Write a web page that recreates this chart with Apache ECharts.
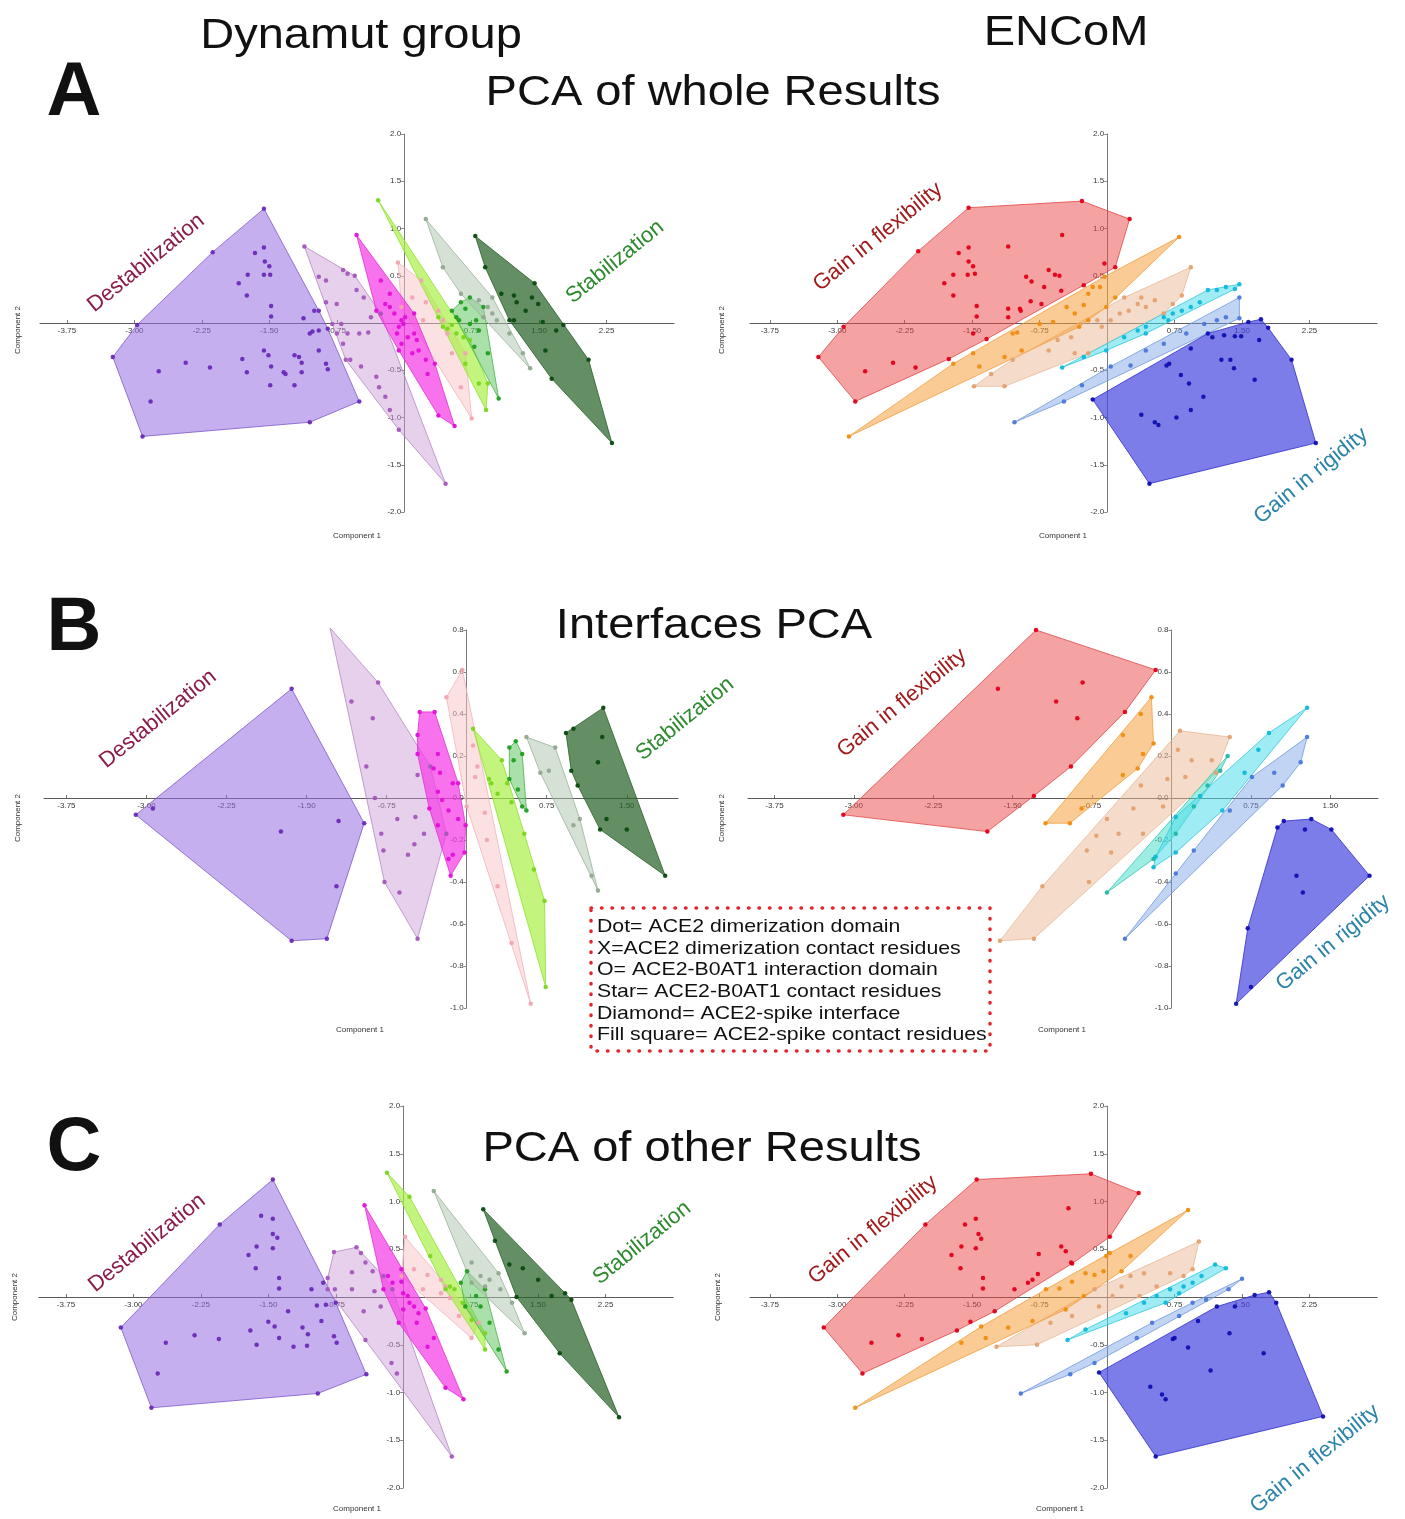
<!DOCTYPE html>
<html>
<head>
<meta charset="utf-8">
<script src="https://cdn.jsdelivr.net/npm/echarts@6/dist/echarts.min.js"></script>
<style>
  html, body { margin: 0; padding: 0; background: #ffffff; }
  #chart { width: 1405px; height: 1519px; }
</style>
</head>
<body>
<div id="chart"></div>
<script>
// ---------- tick labels ----------
const xTicksWide = [-3.75, -3.0, -2.25, -1.5, -0.75, 0.75, 1.5, 2.25];
const xTicksNarrow = [-3.75, -3.0, -2.25, -1.5, -0.75, 0.75, 1.5];
const yTicksWide = [-2.0, -1.5, -1.0, -0.5, 0.5, 1.0, 1.5, 2.0];
const yTicksNarrow = [-1.0, -0.8, -0.6, -0.4, -0.2, 0.0, 0.2, 0.4, 0.6, 0.8];

// ---------- A: PCA of whole results, Dynamut group ----------
const aDynPurple = [[-1.56,1.21],[-0.50,-0.83],[-1.05,-1.05],[-2.91,-1.20],[-3.24,-0.36],[-2.97,-0.02],[-2.13,0.75],[-1.56,0.80],[-1.66,0.74],[-1.55,0.65],[-1.50,0.60],[-1.74,0.51],[-1.56,0.51],[-1.49,0.51],[-1.84,0.42],[-1.75,0.29],[-1.48,0.18],[-1.48,0.07],[-1.12,0.05],[-1.00,0.13],[-0.95,0.13],[-1.02,-0.09],[-0.95,-0.08],[-1.05,-0.11],[-0.85,-0.06],[-0.95,-0.29],[-0.87,-0.43],[-0.85,-0.49],[-1.22,-0.34],[-1.17,-0.36],[-1.14,-0.42],[-1.14,-0.52],[-1.22,-0.66],[-1.32,-0.54],[-1.48,-0.46],[-1.51,-0.34],[-1.56,-0.29],[-1.80,-0.38],[-1.75,-0.52],[-1.49,-0.66],[-2.16,-0.47],[-2.43,-0.42],[-2.73,-0.51],[-2.82,-0.83],[-1.34,-0.52]];
const aDynLavender = [[-1.11,0.81],[-0.55,0.50],[-0.26,0.10],[0.46,-1.70],[-0.06,-1.13],[-0.65,-0.39],[-0.95,0.49],[-0.87,0.45],[-0.68,0.56],[-0.63,0.52],[-0.53,0.35],[-0.45,0.27],[-0.87,0.22],[-0.75,0.20],[-0.80,-0.01],[-0.70,-0.01],[-0.75,-0.11],[-0.63,-0.11],[-0.50,-0.11],[-0.40,-0.10],[-0.68,-0.22],[-0.60,-0.39],[-0.48,-0.46],[-0.31,-0.57],[-0.28,-0.68],[-0.21,-0.78],[-0.16,-0.92],[-0.37,0.06]];
const aDynMagenta = [[-0.53,0.93],[0.56,-1.09],[0.38,-0.98],[-0.31,0.13],[0.34,-0.43],[0.11,0.10],[-0.16,0.17],[-0.11,0.10],[-0.03,0.03],[-0.01,-0.01],[-0.06,-0.04],[0.01,0.06],[-0.08,-0.11],[0.04,-0.15],[-0.03,-0.22],[0.11,-0.11],[0.14,-0.18],[0.09,-0.32],[0.24,-0.39],[0.26,-0.54],[0.16,-0.29],[-0.21,0.20],[-0.16,0.31],[-0.26,0.45],[-0.06,-0.29]];
const aDynPink = [[-0.07,0.64],[0.75,-1.01],[0.09,0.27],[0.24,0.22],[0.38,0.13],[0.21,0.03],[0.43,0.03],[0.48,-0.11],[0.53,-0.32],[0.63,-0.68],[0.19,0.45],[-0.03,0.17],[0.68,-0.32]];
const aDynLime = [[-0.29,1.30],[0.91,-0.92],[0.93,-0.64],[0.73,-0.18],[0.43,-0.04],[0.68,-0.43],[0.38,0.06],[0.48,-0.06],[0.53,-0.02],[0.58,-0.11],[0.66,-0.15],[0.83,-0.64]];
const aDynGreen = [[0.53,0.13],[0.73,0.27],[0.88,0.17],[1.05,-0.80],[0.63,0.22],[0.68,0.15],[0.58,0.06],[0.73,-0.01],[0.80,0.03],[0.83,-0.08],[0.78,-0.25],[0.93,-0.32],[0.61,0.03]];
const aDynSage = [[0.24,1.10],[0.98,0.27],[1.40,-0.48],[0.93,0.17],[0.83,0.24],[0.98,0.10],[0.88,0.06],[1.03,0.03],[1.17,-0.11],[1.32,-0.32],[0.63,0.31],[0.43,0.59]];
const aDynForest = [[0.79,0.92],[1.45,0.42],[1.77,-0.02],[2.05,-0.39],[2.31,-1.27],[1.64,-0.59],[1.17,0.03],[0.90,0.59],[1.08,0.31],[1.22,0.29],[1.25,0.22],[1.35,0.13],[1.42,0.27],[1.49,0.20],[1.54,0.01],[1.69,-0.08],[1.22,0.03],[1.57,-0.29]];

// ---------- A: PCA of whole results, ENCoM ----------
const aEncRed = [[-1.54,1.22],[-0.28,1.29],[0.25,1.10],[0.09,0.59],[-0.26,0.40],[-0.73,0.20],[-1.34,-0.17],[-1.76,-0.38],[-2.80,-0.83],[-3.21,-0.36],[-2.93,-0.04],[-2.10,0.76],[-0.50,0.93],[-1.10,0.81],[-1.54,0.80],[-1.65,0.74],[-1.54,0.65],[-1.49,0.60],[-1.71,0.51],[-1.55,0.51],[-1.47,0.52],[-1.81,0.42],[-1.71,0.29],[-1.45,0.18],[-1.45,0.07],[-1.10,0.06],[-0.96,0.13],[-0.85,0.23],[-0.65,0.56],[-0.58,0.51],[-0.53,0.50],[-0.90,0.49],[-0.84,0.44],[-0.70,0.38],[-0.51,0.34],[-0.97,0.15],[-0.03,0.63],[-1.49,-0.11],[-2.13,-0.47],[-2.38,-0.42],[-2.69,-0.51],[-1.10,0.15]];
const aEncOrange = [[-2.87,-1.20],[0.80,0.91],[-1.71,-0.43],[-1.49,-0.32],[-1.42,-0.46],[-1.05,-0.11],[-1.00,-0.10],[-0.95,-0.29],[-1.14,-0.36],[-0.75,-0.01],[-0.60,0.01],[-0.45,0.17],[-0.36,0.10],[-0.26,0.19],[-0.21,0.31],[-0.16,0.38],[-0.08,0.38],[-0.03,0.49],[-0.01,0.17],[0.09,0.27],[-0.21,0.03],[-0.31,-0.04]];
const aEncPeach = [[-1.48,-0.67],[-1.14,-0.67],[0.93,0.59],[0.83,0.29],[0.63,0.10],[-1.29,-0.54],[-1.05,-0.39],[-0.65,-0.29],[-0.55,-0.18],[-0.40,-0.15],[-0.06,-0.04],[0.04,0.03],[0.14,0.10],[0.24,0.13],[0.34,0.20],[0.43,0.17],[0.53,0.24],[0.73,0.20],[0.19,0.27],[0.38,0.27],[-0.11,0.03],[-0.36,-0.32],[-0.21,-0.32]];
const aEncCyan = [[-0.50,-0.47],[1.47,0.41],[1.12,0.35],[-0.26,-0.36],[-0.01,-0.29],[0.19,-0.15],[0.34,-0.08],[0.43,-0.04],[0.63,0.06],[0.73,0.10],[0.83,0.13],[0.93,0.17],[1.03,0.22],[1.22,0.35],[1.32,0.38],[0.43,-0.11],[0.68,0.03],[1.42,0.36]];
const aEncSky = [[-1.03,-1.05],[1.47,0.27],[1.47,0.05],[-0.48,-0.83],[-0.28,-0.66],[0.04,-0.46],[0.26,-0.45],[0.43,-0.29],[0.63,-0.22],[0.88,-0.11],[1.08,-0.01],[1.22,0.03],[1.32,0.06]];
const aEncBlue = [[1.12,-0.11],[1.71,0.04],[1.79,-0.05],[2.05,-0.39],[2.32,-1.27],[0.47,-1.70],[-0.16,-0.81],[1.17,-0.15],[1.30,-0.13],[1.42,-0.14],[1.49,-0.14],[1.69,-0.18],[0.93,-0.27],[0.66,-0.45],[0.69,-0.43],[0.82,-0.55],[0.91,-0.64],[0.93,-0.92],[1.07,-0.78],[1.27,-0.39],[1.37,-0.39],[1.41,-0.48],[1.64,-0.60],[0.38,-0.97],[0.53,-1.05],[0.57,-1.08],[0.77,-1.00],[1.57,0.01]];

// ---------- B: interfaces PCA, Dynamut group ----------
const bDynPurple = [[-1.64,0.52],[-0.96,-0.12],[-1.31,-0.67],[-1.64,-0.68],[-3.10,-0.08],[-1.74,-0.16],[-1.20,-0.11],[-1.22,-0.42],[-2.94,-0.05]];
const bDynLavender = [[-1.28,0.81],[-0.83,0.55],[-0.19,-0.17],[-0.46,-0.67],[-0.77,-0.40],[-1.08,0.46],[-0.88,0.38],[-0.94,0.15],[-0.86,0.00],[-0.80,-0.17],[-0.78,-0.25],[-0.65,-0.10],[-0.48,-0.09],[-0.55,-0.27],[-0.49,-0.22],[-0.40,-0.17],[-0.46,0.11],[-0.63,-0.45],[-0.34,0.15]];
const bDynMagenta = [[-0.44,0.41],[-0.30,0.41],[-0.08,0.07],[-0.01,-0.13],[-0.02,-0.26],[-0.15,-0.37],[-0.46,0.21],[-0.46,0.30],[-0.27,0.21],[-0.31,0.14],[-0.25,0.12],[-0.27,0.03],[-0.23,-0.01],[-0.13,0.07],[-0.17,-0.06],[-0.08,-0.10],[-0.27,-0.13],[-0.13,-0.27],[-0.17,-0.29],[-0.35,-0.05]];
const bDynPink = [[-0.19,0.48],[-0.04,0.61],[0.10,0.15],[0.60,-0.98],[0.00,-0.04],[0.06,0.25],[0.08,0.10],[0.17,-0.07],[0.19,-0.20],[0.29,-0.42],[0.42,-0.69]];
const bDynLime = [[0.06,0.33],[0.33,0.18],[0.73,-0.49],[0.74,-0.90],[0.21,0.09],[0.23,0.07],[0.38,0.07],[0.29,0.02],[0.42,-0.02],[0.54,-0.17],[0.63,-0.34]];
const bDynGreen = [[0.40,0.24],[0.46,0.27],[0.52,0.21],[0.56,-0.06],[0.40,0.09],[0.44,0.18],[0.48,0.04],[0.52,-0.04]];
const bDynSage = [[0.56,0.29],[0.83,0.24],[1.06,-0.10],[1.23,-0.44],[0.69,0.12],[0.77,0.13],[1.00,-0.13],[1.17,-0.37]];
const bDynForest = [[0.93,0.31],[1.28,0.43],[1.86,-0.37],[1.25,-0.15],[0.98,0.13],[1.00,0.33],[1.27,0.29],[1.23,0.17],[1.04,0.06],[1.31,-0.10],[1.50,-0.15]];

// ---------- B: interfaces PCA, ENCoM ----------
const bEncRed = [[-1.28,0.80],[-0.15,0.61],[-0.95,0.15],[-1.74,-0.16],[-3.10,-0.08],[-1.64,0.52],[-0.84,0.55],[-1.09,0.46],[-0.89,0.38],[-0.44,0.41],[-1.30,0.01]];
const bEncOrange = [[-0.19,0.48],[-0.17,0.26],[-0.32,0.14],[-0.96,-0.12],[-1.19,-0.12],[-0.29,0.40],[-0.46,0.30],[-0.27,0.21],[-0.46,0.11],[-0.85,-0.05]];
const bEncPeach = [[0.08,0.32],[0.55,0.29],[-1.30,-0.67],[-1.62,-0.68],[0.06,0.23],[0.13,0.10],[0.19,0.18],[0.38,0.18],[0.42,0.12],[-0.04,0.09],[-0.08,-0.04],[-0.29,0.06],[-0.36,-0.05],[-0.50,-0.17],[-0.61,-0.10],[-0.71,-0.18],[-0.80,-0.25],[-0.57,-0.26],[-0.78,-0.40],[-1.22,-0.42],[-0.27,-0.17]];
const bEncTeal = [[-0.61,-0.45],[0.53,0.20],[-0.17,-0.29],[0.04,-0.17],[0.21,-0.04],[0.34,0.06],[0.46,0.13]];
const bEncCyan = [[-0.17,-0.33],[1.28,0.43],[-0.15,-0.28],[0.04,-0.09],[0.27,0.01],[0.48,-0.06],[0.69,0.12],[0.82,0.23],[0.92,0.31],[0.04,-0.26]];
const bEncSky = [[-0.44,-0.67],[1.28,0.29],[0.55,-0.06],[0.97,0.12],[1.05,0.06],[1.22,0.17],[0.76,0.10],[0.04,-0.36],[0.21,-0.25]];
const bEncBlue = [[1.06,-0.11],[1.32,-0.10],[1.51,-0.15],[1.87,-0.37],[0.61,-0.98],[0.72,-0.62],[1.00,-0.14],[1.26,-0.15],[1.18,-0.37],[1.24,-0.45],[0.75,-0.90]];

// ---------- C: PCA of other results, Dynamut group ----------
const cDynPurple = [[-1.45,1.23],[-0.41,-0.81],[-0.95,-1.01],[-2.80,-1.16],[-3.14,-0.32],[-2.04,0.76],[-1.58,0.85],[-1.45,0.82],[-1.45,0.66],[-1.40,0.62],[-1.63,0.53],[-1.45,0.51],[-1.72,0.44],[-1.64,0.30],[-1.38,0.20],[-1.38,0.09],[-1.02,0.08],[-0.89,0.15],[-0.96,-0.09],[-0.86,-0.08],[-0.75,-0.06],[-0.91,-0.25],[-0.77,-0.41],[-0.74,-0.48],[-1.06,-0.39],[-1.12,-0.32],[-1.07,-0.51],[-1.22,-0.52],[-1.38,-0.43],[-1.43,-0.31],[-1.50,-0.26],[-1.70,-0.35],[-1.63,-0.50],[-2.05,-0.44],[-2.32,-0.40],[-2.64,-0.48],[-2.73,-0.80],[-1.28,-0.15]];
const cDynLavender = [[-0.77,0.47],[-0.52,0.52],[-0.47,0.46],[-0.22,0.22],[0.54,-1.67],[-0.42,-0.45],[-0.84,0.08],[-0.84,0.20],[-0.42,0.36],[-0.34,0.27],[-0.57,0.26],[-0.76,0.08],[-0.57,0.08],[-0.44,-0.15],[-0.25,-0.10],[-0.32,0.06],[-0.12,0.08],[-0.13,-0.69],[-0.07,-0.80]];
const cDynMagenta = [[-0.43,0.96],[0.67,-1.07],[0.47,-0.95],[-0.17,0.22],[-0.12,0.15],[-0.02,0.16],[0.00,0.04],[0.05,0.01],[0.07,-0.06],[0.00,-0.13],[0.12,-0.10],[0.17,-0.17],[0.25,-0.12],[0.15,-0.27],[0.34,-0.43],[0.27,-0.52],[-0.02,0.29],[-0.22,0.08],[-0.05,-0.27]];
const cDynPink = [[0.02,0.63],[0.76,-0.43],[0.12,0.29],[0.27,0.23],[0.42,0.18],[0.47,0.11],[0.22,0.08],[0.42,0.04],[0.52,-0.01],[0.62,-0.20],[-0.02,0.22],[0.84,-0.27]];
const cDynLime = [[-0.18,1.30],[0.07,1.05],[0.91,-0.38],[0.91,-0.55],[0.47,0.08],[0.30,0.43],[0.52,0.11],[0.57,0.08],[0.66,-0.06],[0.76,-0.24]];
const cDynGreen = [[0.64,0.15],[0.71,0.27],[0.91,0.08],[1.15,-0.78],[0.69,-0.10],[0.81,0.01],[0.86,-0.10],[0.96,-0.27],[1.06,-0.55]];
const cDynSage = [[0.34,1.11],[1.06,0.25],[1.35,-0.38],[0.76,0.36],[0.86,0.22],[0.96,0.18],[0.91,0.11],[1.08,0.08],[1.21,-0.06],[0.76,0.15]];
const cDynForest = [[0.89,0.92],[1.80,0.04],[1.87,-0.03],[2.40,-1.26],[1.74,-0.59],[1.26,0.00],[1.02,0.59],[1.18,0.34],[1.33,0.30],[1.50,0.18],[1.65,0.01]];

// ---------- C: PCA of other results, ENCoM ----------
const cEncRed = [[-1.45,1.23],[-0.18,1.29],[0.35,1.09],[0.03,0.63],[-0.39,0.35],[-1.25,-0.15],[-1.67,-0.35],[-2.72,-0.80],[-3.15,-0.32],[-2.02,0.76],[-0.43,0.93],[-1.46,0.82],[-1.58,0.76],[-1.43,0.66],[-1.40,0.61],[-1.62,0.53],[-1.46,0.51],[-1.73,0.44],[-1.63,0.30],[-1.38,0.20],[-1.38,0.09],[-1.03,0.08],[-0.88,0.15],[-0.83,0.18],[-0.77,0.24],[-0.76,0.45],[-0.51,0.53],[-0.46,0.48],[-0.40,0.36],[-1.52,-0.26],[-2.32,-0.40],[-2.62,-0.48],[-2.06,-0.44]];
const cEncOrange = [[-2.80,-1.16],[0.90,0.91],[-1.62,-0.48],[-1.40,-0.31],[-1.35,-0.43],[-1.10,-0.32],[-0.83,-0.25],[-0.68,0.08],[-0.53,0.09],[-0.39,0.16],[-0.24,0.25],[-0.14,0.23],[-0.04,0.27],[-0.01,0.43],[0.03,0.46],[0.16,0.27],[0.26,0.43],[-0.26,0.01],[-0.46,-0.13]];
const cEncPeach = [[-1.23,-0.52],[-0.78,-0.50],[1.02,0.58],[0.95,0.29],[0.36,0.01],[-0.63,-0.27],[-0.39,-0.20],[-0.09,-0.10],[0.06,0.01],[0.16,0.11],[0.26,0.22],[0.41,0.25],[0.55,0.11],[0.70,0.25],[0.85,0.22],[-0.14,0.08]];
const cEncCyan = [[-0.44,-0.45],[1.20,0.34],[1.32,0.30],[-0.24,-0.34],[0.21,-0.17],[0.41,-0.06],[0.55,0.01],[0.70,0.08],[0.85,0.11],[0.95,0.15],[1.05,0.22],[0.65,-0.06],[0.80,0.04]];
const cEncSky = [[-0.96,-1.01],[-0.41,-0.81],[1.50,0.19],[-0.14,-0.69],[0.33,-0.43],[0.50,-0.27],[0.80,-0.20],[0.95,-0.06],[1.10,-0.03],[1.35,0.08]];
const cEncBlue = [[1.22,-0.10],[1.64,0.02],[1.80,0.05],[1.88,-0.06],[2.40,-1.25],[0.54,-1.67],[-0.09,-0.79],[1.01,-0.25],[1.36,-0.38],[0.75,-0.43],[0.73,-0.44],[0.90,-0.53],[1.15,-0.77],[1.74,-0.59],[0.48,-0.94],[0.61,-1.02],[0.65,-1.07],[1.42,-0.10]];

// ---------- legend box text ----------
const legendLines = [
  'Dot= ACE2 dimerization domain',
  'X=ACE2 dimerization contact residues',
  'O= ACE2-B0AT1 interaction domain',
  'Star= ACE2-B0AT1 contact residues',
  'Diamond= ACE2-spike interface',
  'Fill square= ACE2-spike contact residues'
];

// ---------- group styles ----------
const ST = {
  purple:   { fill: 'rgba(150,110,225,0.55)', stroke: '#7f58cc', dot: '#6a2ab8' },
  lavender: { fill: 'rgba(200,150,210,0.45)', stroke: '#b488c4', dot: '#a455bc' },
  magenta:  { fill: 'rgba(245,60,230,0.72)',  stroke: '#e030d4', dot: '#e010d8' },
  pink:     { fill: 'rgba(250,195,200,0.5)',  stroke: '#f0b4bc', dot: '#f0a4b2' },
  lime:     { fill: 'rgba(170,240,70,0.7)',   stroke: '#90e030', dot: '#7ad61c' },
  green:    { fill: 'rgba(100,200,100,0.55)', stroke: '#48b048', dot: '#1f9f1f' },
  sage:     { fill: 'rgba(170,195,170,0.5)',  stroke: '#9ab29a', dot: '#90a890' },
  forest:   { fill: 'rgba(40,100,40,0.72)',   stroke: '#2a602a', dot: '#0a4a10' },
  red:      { fill: 'rgba(235,70,70,0.5)',    stroke: '#e04848', dot: '#e00018' },
  orange:   { fill: 'rgba(245,160,60,0.55)',  stroke: '#f0a040', dot: '#f08c10' },
  peach:    { fill: 'rgba(235,185,150,0.5)',  stroke: '#e8b898', dot: '#e4a070' },
  teal:     { fill: 'rgba(60,220,200,0.5)',   stroke: '#30c8b0', dot: '#20b8a8' },
  cyan:     { fill: 'rgba(80,220,235,0.55)',  stroke: '#30c8e0', dot: '#10b8d8' },
  sky:      { fill: 'rgba(120,160,230,0.45)', stroke: '#7098e0', dot: '#4a78d8' },
  blue:     { fill: 'rgba(70,70,225,0.7)',    stroke: '#3030c8', dot: '#1010b0' }
};

// ---------- panels ----------
const panels = [
  { grid: { left: 40,  top: 134,  width: 634, height: 378 }, x: [-4.05, 3.0], y: [-2, 2], xt: xTicksWide, yt: yTicksWide,
    groups: [[aDynPurple,'purple'],[aDynLavender,'lavender'],[aDynPink,'pink'],[aDynMagenta,'magenta'],[aDynLime,'lime'],[aDynGreen,'green'],[aDynSage,'sage'],[aDynForest,'forest']] },
  { grid: { left: 750, top: 134,  width: 627, height: 378 }, x: [-3.97, 3.0], y: [-2, 2], xt: xTicksWide, yt: yTicksWide,
    groups: [[aEncRed,'red'],[aEncPeach,'peach'],[aEncOrange,'orange'],[aEncSky,'sky'],[aEncCyan,'cyan'],[aEncBlue,'blue']] },
  { grid: { left: 44,  top: 630,  width: 634, height: 378 }, x: [-3.96, 1.98], y: [-1.0, 0.8], xt: xTicksNarrow, yt: yTicksNarrow,
    groups: [[bDynPurple,'purple'],[bDynLavender,'lavender'],[bDynPink,'pink'],[bDynMagenta,'magenta'],[bDynLime,'lime'],[bDynGreen,'green'],[bDynSage,'sage'],[bDynForest,'forest']] },
  { grid: { left: 748, top: 630,  width: 630, height: 378 }, x: [-4.0, 1.95], y: [-1.0, 0.8], xt: xTicksNarrow, yt: yTicksNarrow,
    groups: [[bEncRed,'red'],[bEncPeach,'peach'],[bEncOrange,'orange'],[bEncSky,'sky'],[bEncTeal,'teal'],[bEncCyan,'cyan'],[bEncBlue,'blue']] },
  { grid: { left: 39,  top: 1106, width: 634, height: 382 }, x: [-4.05, 3.0], y: [-2, 2], xt: xTicksWide, yt: yTicksWide,
    groups: [[cDynPurple,'purple'],[cDynLavender,'lavender'],[cDynPink,'pink'],[cDynMagenta,'magenta'],[cDynLime,'lime'],[cDynGreen,'green'],[cDynSage,'sage'],[cDynForest,'forest']] },
  { grid: { left: 750, top: 1106, width: 627, height: 382 }, x: [-3.97, 3.0], y: [-2, 2], xt: xTicksWide, yt: yTicksWide,
    groups: [[cEncRed,'red'],[cEncPeach,'peach'],[cEncOrange,'orange'],[cEncSky,'sky'],[cEncCyan,'cyan'],[cEncBlue,'blue']] }
];

// Andrew's monotone chain convex hull
function convexHull(pts) {
  const p = pts.slice().sort((a, b) => a[0] - b[0] || a[1] - b[1]);
  const cross = (o, a, b) => (a[0] - o[0]) * (b[1] - o[1]) - (a[1] - o[1]) * (b[0] - o[0]);
  const lower = [];
  for (const q of p) {
    while (lower.length >= 2 && cross(lower[lower.length - 2], lower[lower.length - 1], q) <= 0) lower.pop();
    lower.push(q);
  }
  const upper = [];
  for (let i = p.length - 1; i >= 0; i--) {
    const q = p[i];
    while (upper.length >= 2 && cross(upper[upper.length - 2], upper[upper.length - 1], q) <= 0) upper.pop();
    upper.push(q);
  }
  upper.pop(); lower.pop();
  return lower.concat(upper);
}

const grids = [], xAxes = [], yAxes = [], series = [];
const labelFont = { fontFamily: 'Liberation Sans', fontSize: 8, color: '#3a3a3a' };

panels.forEach((pn, gi) => {
  const g = pn.grid;
  // the axes cross at the origin: shift each axis from the grid edge to the zero of the other axis
  const xShift = -((0 - pn.y[0]) / (pn.y[1] - pn.y[0])) * g.height;
  const yShift = -((0 - pn.x[0]) / (pn.x[1] - pn.x[0])) * g.width;
  grids.push(Object.assign({ containLabel: false }, g));
  xAxes.push({
    type: 'value', gridIndex: gi, min: pn.x[0], max: pn.x[1], position: 'bottom', offset: xShift,
    axisLine: { onZero: false, lineStyle: { color: '#5a5a5a', width: 1.2 } }, splitLine: { show: false },
    axisTick: { show: true, inside: true, length: 3, customValues: pn.xt, lineStyle: { color: '#777' } },
    axisLabel: Object.assign({ customValues: pn.xt, margin: 4, formatter: v => v.toFixed(2) }, labelFont)
  });
  yAxes.push({
    type: 'value', gridIndex: gi, min: pn.y[0], max: pn.y[1], position: 'left', offset: yShift,
    axisLine: { onZero: false, lineStyle: { color: '#7a7a7a', width: 1 } }, splitLine: { show: false },
    axisTick: { show: true, length: 3, customValues: pn.yt, lineStyle: { color: '#888' } },
    axisLabel: Object.assign({ customValues: pn.yt, margin: 3, formatter: v => v.toFixed(1) }, labelFont)
  });
  pn.groups.forEach(([pts, key], k) => {
    const st = ST[key];
    const hull = convexHull(pts);
    series.push({
      type: 'custom', xAxisIndex: gi, yAxisIndex: gi, data: hull, clip: false, silent: true, z: 2 + k * 0.01,
      renderItem: (params, api) => {
        if (params.dataIndex !== 0) return null;
        return {
          type: 'polygon',
          shape: { points: hull.map(p => api.coord(p)) },
          style: { fill: st.fill, stroke: st.stroke, lineWidth: 0.8 }
        };
      }
    });
    series.push({
      type: 'scatter', xAxisIndex: gi, yAxisIndex: gi, data: pts, symbol: 'circle', symbolSize: 4.5,
      itemStyle: { color: st.dot, opacity: 0.95 }, silent: true, z: 3
    });
  });
});

// ---------- text ----------
const G = [];
function txt(text, x, y, font, fill, rotDeg, align, sx) {
  G.push({
    type: 'text', x: x, y: y, rotation: (rotDeg || 0) * Math.PI / 180, scaleX: sx || 1, z: 100,
    style: { text: text, font: font, fill: fill, align: align || 'center', verticalAlign: 'middle',
             textAlign: align || 'center', textVerticalAlign: 'middle' }
  });
}
const WIDE = 1.12;   // headings are set slightly expanded
const TITLE = '42px "Liberation Sans", Arial, sans-serif';
const LETTER = 'bold 76px "Liberation Sans", Arial, sans-serif';
const NOTE = '22px "Liberation Sans", Arial, sans-serif';
const SMALL = '8px "Liberation Sans", Arial, sans-serif';

txt('Dynamut group', 361, 36, TITLE, '#111', 0, 'center', WIDE);
txt('ENCoM', 1066, 33, TITLE, '#111', 0, 'center', WIDE);
txt('A', 74, 94, LETTER, '#111');
txt('PCA of whole Results', 713, 93, TITLE, '#111', 0, 'center', WIDE);
txt('B', 74, 629, LETTER, '#111');
txt('Interfaces PCA', 714, 626, TITLE, '#111', 0, 'center', WIDE);
txt('C', 74, 1149, LETTER, '#111');
txt('PCA of other Results', 702, 1149, TITLE, '#111', 0, 'center', WIDE);

const DESTAB = '#8a1c4c', STAB = '#2e8a2e', FLEX = '#a01c1c', RIGID = '#2b84a8';
txt('Destabilization', 146, 263, NOTE, DESTAB, 39);
txt('Stabilization', 615, 262, NOTE, STAB, 39);
txt('Gain in flexibility', 878, 237, NOTE, FLEX, 39);
txt('Gain in rigidity', 1311, 476, NOTE, RIGID, 39);
txt('Destabilization', 158, 719, NOTE, DESTAB, 39);
txt('Stabilization', 685, 719, NOTE, STAB, 39);
txt('Gain in flexibility', 902, 703, NOTE, FLEX, 39);
txt('Gain in rigidity', 1333, 943, NOTE, RIGID, 39);
txt('Destabilization', 147, 1243, NOTE, DESTAB, 39);
txt('Stabilization', 642, 1243, NOTE, STAB, 39);
txt('Gain in flexibility', 873, 1230, NOTE, FLEX, 39);
txt('Gain in flexibility', 1315, 1459, NOTE, RIGID, 39);

// axis names
[[357, 536, 18, 330], [1063, 536, 722, 330], [360, 1030, 18, 818], [1062, 1030, 722, 818], [357, 1509, 15, 1297], [1060, 1509, 718, 1297]]
  .forEach(([x1, y1, x2, y2]) => {
    txt('Component 1', x1, y1, SMALL, '#333');
    txt('Component 2', x2, y2, SMALL, '#333', 90);
  });

// legend box for marker shapes
G.push({
  type: 'rect', z: 90, shape: { x: 591, y: 908, width: 399, height: 143 },
  style: { fill: 'rgba(255,255,255,0)', stroke: '#e3262c', lineWidth: 3.5, lineDash: [0.5, 10], lineCap: 'round' }
});
legendLines.forEach((s, i) => {
  txt(s, 597, 927 + i * 21.6, '19px "Liberation Sans", Arial, sans-serif', '#111', 0, 'left', WIDE);
});

const chart = echarts.init(document.getElementById('chart'), null, { renderer: 'canvas' });
chart.setOption({
  backgroundColor: '#ffffff',
  animation: false,
  grid: grids,
  xAxis: xAxes,
  yAxis: yAxes,
  series: series,
  graphic: { elements: G }
});
</script>
</body>
</html>
